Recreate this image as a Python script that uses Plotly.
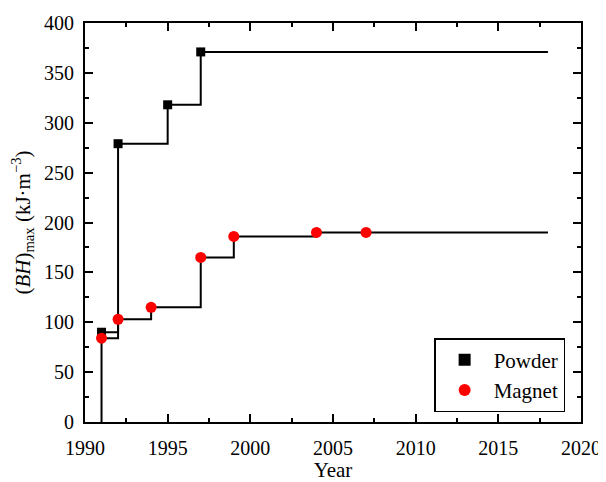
import plotly.graph_objects as go

# step-line data (last point extends the line to 2018)
powder_years = [1991, 1991, 1992, 1995, 1997, 2018]
powder_bh = [0, 90, 279, 318, 371, 371]
magnet_years = [1991, 1992, 1994, 1997, 1999, 2004, 2007, 2018]
magnet_bh = [84, 103, 115, 165, 186, 190, 190, 190]

FONT = "Liberation Serif, Times New Roman, serif"

fig = go.Figure()

# step lines
fig.add_trace(go.Scatter(x=powder_years, y=powder_bh, mode="lines", line_shape="hv",
                         line=dict(color="black", width=2), showlegend=False))
fig.add_trace(go.Scatter(x=magnet_years, y=magnet_bh, mode="lines", line_shape="hv",
                         line=dict(color="black", width=2), showlegend=False))

# markers (skip the line-only start/end points)
fig.add_trace(go.Scatter(x=powder_years[1:-1], y=powder_bh[1:-1], mode="markers", name="Powder",
                         marker=dict(symbol="square", color="black", size=9)))
fig.add_trace(go.Scatter(x=magnet_years[:-1], y=magnet_bh[:-1], mode="markers", name="Magnet",
                         marker=dict(symbol="circle", color="red", size=11)))

axis_style = dict(
    showline=True, linecolor="black", linewidth=2, mirror="allticks",
    ticks="inside", ticklen=8, tickwidth=2, tickcolor="black",
    showgrid=False, zeroline=False, automargin=False,
    tickfont=dict(family=FONT, size=20, color="black"),
)

fig.update_xaxes(range=[1990, 2020], dtick=5, tick0=1990, ticklabelstandoff=7,
                 minor=dict(ticks="inside", ticklen=4, tickwidth=2, tickcolor="black", dtick=2.5),
                 title=dict(text="Year", font=dict(family=FONT, size=21, color="black"), standoff=10),
                 **axis_style)
fig.update_yaxes(range=[0, 400], dtick=50, ticklabelstandoff=5,
                 minor=dict(ticks="inside", ticklen=4, tickwidth=2, tickcolor="black", dtick=25),
                 title=dict(text="(<i>BH</i>)<sub>max</sub> (kJ·m<sup>−3</sup>)",
                            font=dict(family=FONT, size=21, color="black"), standoff=11),
                 **axis_style)

# page body adds an 8px margin, so the figure is 16px smaller than the window
fig.update_layout(
    width=598, height=474,
    margin=dict(l=77, r=25, t=15, b=60),
    plot_bgcolor="white", paper_bgcolor="white",
    legend=dict(x=0.968, y=0.025, xanchor="right", yanchor="bottom",
                bordercolor="black", borderwidth=1.5, bgcolor="white",
                font=dict(family=FONT, size=21, color="black"),
                itemsizing="constant", itemwidth=48, tracegroupgap=0),
)

fig.write_html("out.html")
